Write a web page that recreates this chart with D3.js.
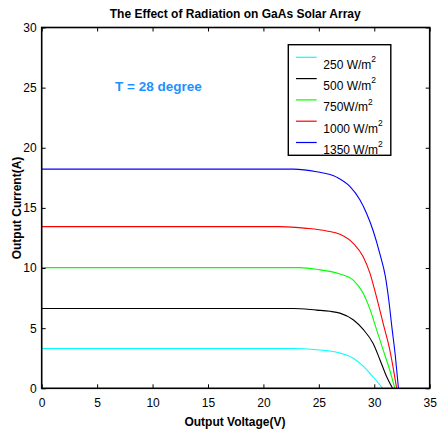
<!DOCTYPE html>
<html>
<head>
<meta charset="utf-8">
<script src="https://cdn.jsdelivr.net/npm/d3@7"></script>
<style>
  html, body { margin: 0; padding: 0; background: #fff; }
  svg { display: block; font-family: "Liberation Sans", Arial, sans-serif; }
</style>
</head>
<body>
<svg id="chart" width="437" height="432"></svg>
<script>
// ---- data ----
const seriesNames = ["250 W/m", "500 W/m", "750W/m", "1000 W/m", "1350 W/m"];
const seriesColors = ["#00ffff", "#000000", "#00ff00", "#ff0000", "#0000ff"];

const v250 = [0, 22.7, 24.8, 26.0, 26.9, 28.1, 29.0, 29.9, 30.4, 30.76];
const i250 = [3.31, 3.31, 3.2, 3.1, 2.94, 2.5, 1.85, 0.94, 0.4, 0];

const v500 = [0, 22.7, 24.8, 26.0, 26.9, 28.1, 29.0, 29.9, 30.5, 31.1, 31.65];
const i500 = [6.64, 6.64, 6.5, 6.4, 6.25, 5.7, 4.9, 3.72, 2.4, 1.0, 0];

const v750 = [0, 23.3, 25.1, 26.0, 26.9, 28.1, 29.0, 29.6, 30.2, 30.8, 31.4, 31.85];
const i750 = [10.03, 10.03, 9.85, 9.72, 9.5, 9.0, 7.9, 6.6, 4.9, 3.2, 1.5, 0];

const v1000 = [0, 21.5, 23.9, 25.7, 26.9, 28.1, 29.0, 29.6, 30.2, 30.8, 31.4, 32.02];
const i1000 = [13.44, 13.44, 13.3, 13.08, 12.8, 12.06, 10.94, 9.6, 7.6, 5.4, 3.2, 0];

const v1350 = [0, 22.7, 24.8, 26.6, 27.8, 28.7, 29.3, 29.9, 30.5, 31.0, 31.3, 31.6, 31.9, 32.18];
const i1350 = [18.22, 18.22, 18.0, 17.56, 16.78, 15.67, 14.56, 13.1, 11.2, 9.3, 7.4, 5.0, 2.7, 0];

const xTicks = [0, 5, 10, 15, 20, 25, 30, 35];
const yTicks = [0, 5, 10, 15, 20, 25, 30];

const titleText = "The Effect of Radiation on GaAs Solar Array";
const xLabel = "Output Voltage(V)";
const yLabel = "Output Current(A)";
const noteText = "T = 28 degree";

// ---- layout ----
const svg = d3.select("#chart");
const L = 41.7, R = 429.7, T = 27.5, B = 388.3;

const x = d3.scaleLinear().domain([0, 35]).range([L, R]);
const y = d3.scaleLinear().domain([0, 30]).range([B, T]);

const series = [
  { v: v250, i: i250 },
  { v: v500, i: i500 },
  { v: v750, i: i750 },
  { v: v1000, i: i1000 },
  { v: v1350, i: i1350 }
].map((s, k) => ({
  name: seriesNames[k],
  color: seriesColors[k],
  pts: s.v.map((vv, j) => [vv, s.i[j]])
}));

// curves
const line = d3.line().x(d => x(d[0])).y(d => y(d[1])).curve(d3.curveMonotoneX);
const gLines = svg.append("g");
series.forEach(s => {
  gLines.append("path")
    .attr("d", line(s.pts))
    .attr("fill", "none")
    .attr("stroke", s.color)
    .attr("stroke-width", 1.1);
});

// axes (ticks inward on all sides)
function styleAxis(g, showLabels) {
  g.select(".domain").remove();
  g.selectAll(".tick line").attr("stroke", "#000").attr("stroke-width", 1);
  g.selectAll(".tick text").attr("fill", "#000")
    .style("font-family", "'Liberation Sans', Arial, sans-serif")
    .style("font-size", "12px");
  if (!showLabels) g.selectAll(".tick text").remove();
}
svg.append("g").attr("transform", `translate(0,${B})`)
  .call(d3.axisBottom(x).tickValues(xTicks).tickSize(-4).tickPadding(10).tickFormat(d3.format("d")))
  .call(g => styleAxis(g, true));
svg.append("g").attr("transform", `translate(0,${T})`)
  .call(d3.axisTop(x).tickValues(xTicks).tickSize(-4))
  .call(g => styleAxis(g, false));
svg.append("g").attr("transform", `translate(${L},0)`)
  .call(d3.axisLeft(y).tickValues(yTicks).tickSize(-4).tickPadding(5).tickFormat(d3.format("d")))
  .call(g => styleAxis(g, true));
svg.append("g").attr("transform", `translate(${R},0)`)
  .call(d3.axisRight(y).tickValues(yTicks).tickSize(-4))
  .call(g => styleAxis(g, false));

// box
svg.append("rect")
  .attr("x", L).attr("y", T).attr("width", R - L).attr("height", B - T)
  .attr("fill", "none").attr("stroke", "#000").attr("stroke-width", 1.6);

// title
svg.append("text")
  .attr("x", (L + R) / 2 - 0.5).attr("y", 17.5)
  .attr("text-anchor", "middle")
  .style("font-size", "12px").style("font-weight", "bold")
  .text(titleText);

// axis labels
svg.append("text")
  .attr("x", 235).attr("y", 426)
  .attr("text-anchor", "middle")
  .style("font-size", "12px").style("font-weight", "bold")
  .text(xLabel);
svg.append("text")
  .attr("transform", "translate(20.5,208) rotate(-90)")
  .attr("text-anchor", "middle")
  .style("font-size", "12px").style("font-weight", "bold")
  .text(yLabel);

// annotation
svg.append("text")
  .attr("x", 115).attr("y", 90.5)
  .style("font-size", "13.5px").style("font-weight", "bold")
  .attr("fill", "#1e90ff")
  .text(noteText);

// legend
const lg = svg.append("g");
lg.append("rect")
  .attr("x", 288.3).attr("y", 44.7).attr("width", 102.5).attr("height", 110.6)
  .attr("fill", "#fff").attr("stroke", "#000").attr("stroke-width", 1.4);
series.forEach((s, k) => {
  const ly = 57.3 + k * 21.3;
  lg.append("line")
    .attr("x1", 296).attr("x2", 316.7).attr("y1", ly).attr("y2", ly)
    .attr("stroke", s.color).attr("stroke-width", 1.2);
  const t = lg.append("text")
    .attr("x", 323.3).attr("y", ly + 11.3)
    .style("font-size", "12px");
  t.append("tspan").text(s.name);
  t.append("tspan").attr("dy", -6.5).style("font-size", "8.5px").text("2");
});
</script>
</body>
</html>
